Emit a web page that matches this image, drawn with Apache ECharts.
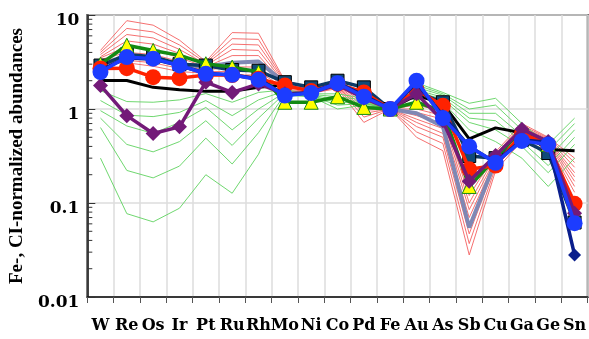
<!DOCTYPE html>
<html><head><meta charset="utf-8">
<script src="https://cdn.jsdelivr.net/npm/echarts@6/dist/echarts.min.js"></script>
<style>html,body{margin:0;padding:0;background:#fff}#c{width:589px;height:339px}</style>
</head><body><div id="c"></div>
<script>
const categories = ['W','Re','Os','Ir','Pt','Ru','Rh','Mo','Ni','Co','Pd','Fe','Au','As','Sb','Cu','Ga','Ge','Sn'];
const yTickLabels = ['0.01','0.1','1','10'];
const minorTickValues = [0.02,0.03,0.04,0.05,0.06,0.07,0.08,0.09,0.2,0.3,0.4,0.5,0.6,0.7,0.8,0.9,2,3,4,5,6,7,8,9];

const red1 = [4.2, 8.7, 7.8, 5.4, 3.2, 6.5, 6.4, 2.0, 1.7, 1.9, 1.5, 1.0, 1.1, 0.95, 0.15, 0.35, 0.7, 0.5, 0.3];
const red2 = [4.0, 7.2, 6.6, 4.8, 3.1, 5.6, 5.5, 1.95, 1.68, 1.88, 1.35, 1.0, 1.0, 0.85, 0.12, 0.33, 0.67, 0.49, 0.27];
const red3 = [3.8, 6.2, 5.7, 4.3, 3.0, 4.9, 4.8, 1.9, 1.65, 1.85, 1.25, 1.0, 0.92, 0.78, 0.1, 0.32, 0.64, 0.48, 0.24];
const red4 = [3.6, 5.3, 4.9, 3.9, 2.9, 4.3, 4.2, 1.85, 1.62, 1.82, 1.15, 1.0, 0.85, 0.7, 0.085, 0.3, 0.61, 0.47, 0.21];
const red5 = [3.5, 4.6, 4.3, 3.5, 2.8, 3.7, 3.7, 1.8, 1.6, 1.8, 1.05, 1.0, 0.78, 0.62, 0.07, 0.29, 0.58, 0.46, 0.19];
const red6 = [3.35, 4.0, 3.8, 3.2, 2.7, 3.2, 3.2, 1.75, 1.57, 1.77, 0.97, 1.0, 0.72, 0.55, 0.058, 0.27, 0.55, 0.45, 0.17];
const red7 = [3.25, 3.6, 3.4, 2.9, 2.6, 2.8, 2.8, 1.7, 1.54, 1.74, 0.9, 1.0, 0.65, 0.5, 0.047, 0.26, 0.52, 0.44, 0.15];
const red8 = [3.15, 3.3, 3.1, 2.7, 2.5, 2.5, 2.5, 1.65, 1.5, 1.7, 0.82, 1.0, 0.57, 0.43, 0.037, 0.24, 0.49, 0.42, 0.13];
const red9 = [3.05, 3.1, 2.85, 2.5, 2.4, 2.3, 2.3, 1.6, 1.47, 1.65, 0.72, 1.0, 0.5, 0.36, 0.028, 0.22, 0.46, 0.4, 0.11];

const green1 = [1.57, 1.2, 1.18, 1.25, 1.46, 1.18, 1.5, 1.6, 1.45, 1.45, 1.3, 1.0, 1.9, 1.5, 1.15, 1.3, 0.7, 0.42, 0.8];
const green2 = [1.23, 0.86, 0.83, 0.92, 1.23, 0.85, 1.25, 1.55, 1.43, 1.35, 1.25, 1.0, 1.8, 1.45, 1.0, 1.1, 0.6, 0.36, 0.7];
const green3 = [0.96, 0.66, 0.55, 0.72, 1.04, 0.6, 1.0, 1.5, 1.41, 1.25, 1.2, 1.0, 1.7, 1.4, 0.9, 0.9, 0.52, 0.3, 0.6];
const green4 = [0.8, 0.42, 0.35, 0.45, 0.75, 0.41, 0.8, 1.47, 1.39, 1.17, 1.17, 1.0, 1.6, 1.33, 0.8, 0.75, 0.45, 0.25, 0.5];
const green5 = [0.635, 0.222, 0.185, 0.247, 0.49, 0.26, 0.56, 1.43, 1.37, 1.1, 1.14, 1.0, 1.52, 1.27, 0.72, 0.6, 0.4, 0.21, 0.42];
const green6 = [0.30, 0.077, 0.063, 0.088, 0.2, 0.127, 0.33, 1.4, 1.35, 1.0, 1.1, 1.0, 1.42, 1.18, 0.6, 0.45, 0.3, 0.15, 0.3];

const blackLine = [2.01, 2.01, 1.7, 1.6, 1.54, 1.54, 1.7, 1.8, 1.6, 1.8, 1.5, 1.0, 1.4, 1.14, 0.48, 0.63, 0.56, 0.37, 0.36];
const slateLine = [3.0, 3.5, 3.4, 3.0, 2.8, 3.1, 3.2, 1.9, 1.6, 1.8, 1.5, 1.0, 0.9, 0.65, 0.055, 0.28, 0.5, 0.42, 0.07];
const squareSeries = [2.9, 3.8, 3.6, 3.0, 2.9, 2.6, 2.55, 1.93, 1.7, 2.0, 1.7, 1.0, 1.5, 1.18, 0.316, 0.3, 0.47, 0.34, 0.062];
const triangleSeries = [3.0, 4.77, 4.2, 3.72, 3.03, 2.79, 2.47, 1.18, 1.18, 1.35, 1.04, 1.0, 1.18, 0.95, 0.15, 0.3, 0.6, 0.42, 0.075];
const redCircles = [2.7, 2.72, 2.18, 2.13, 2.3, 2.3, 2.1, 1.78, 1.55, 1.85, 1.5, 1.0, 1.6, 1.08, 0.228, 0.25, 0.55, 0.42, 0.098];
const purpleDiamonds = [1.78, 0.85, 0.548, 0.646, 1.93, 1.5, 1.85, 1.45, 1.5, 1.8, 1.3, 1.0, 1.45, 0.75, 0.17, 0.32, 0.61, 0.45, 0.078];
const navyDiamonds = [2.6, 3.5, 3.4, 2.9, 2.4, 2.3, 2.1, 1.4, 1.5, 1.9, 1.4, 1.0, 1.9, 0.85, 0.4, 0.27, 0.47, 0.44, 0.028];
const blueCircles = [2.47, 3.57, 3.43, 2.91, 2.37, 2.31, 2.05, 1.39, 1.48, 1.88, 1.35, 1.0, 2.0, 0.8, 0.4, 0.268, 0.458, 0.42, 0.061];

const chart = echarts.init(document.getElementById('c'), null, {renderer: 'canvas'});
function thin(data, color) {
  return {type: 'line', data: data, symbol: 'none', silent: true, z: 2,
    lineStyle: {color: color, width: 0.9}};
}
function thick(data, color, symbol, size, fill, border, z, width) {
  return {type: 'line', data: data, symbol: symbol, symbolSize: size, z: z, silent: true,
    showSymbol: symbol !== 'none',
    lineStyle: {color: color, width: width || 3.5},
    itemStyle: {color: fill || color, borderColor: border || fill || color, borderWidth: border ? 1 : 0}};
}
const series = [];
[red1, red2, red3, red4, red5, red6, red7, red8, red9].forEach(d => series.push(thin(d, '#f46060')));
[green1, green2, green3, green4, green5, green6].forEach(d => series.push(thin(d, '#5fd35f')));
series.push(thick(blackLine, '#000000', 'none', 0, null, null, 3, 3));
series.push(thick(slateLine, '#7f88b4', 'none', 0, null, null, 3, 4));
series.push(thick(squareSeries, '#0d3a66', 'rect', 13, '#0f4a78', '#000000', 4));
series.push(thick(triangleSeries, '#138a13', 'triangle', 14, '#ffff00', '#138a13', 5));
series.push(thick(redCircles, '#ff2200', 'circle', 16, '#ff2200', null, 6));
series.push(thick(purpleDiamonds, '#731a78', 'diamond', 15, '#731a78', null, 7));
series.push(thick(navyDiamonds, '#0a1e8c', 'diamond', 13, '#0a1e8c', null, 8));
series.push(thick(blueCircles, '#1c3cff', 'circle', 16, '#1c3cff', null, 9));
series.push({
  type: 'custom', silent: true, z: 10,
  data: minorTickValues.map(v => [0, v]),
  renderItem: function (params, api) {
    const p = api.coord([api.value(0), api.value(1)]);
    const x0 = params.coordSys.x;
    return {type: 'line', shape: {x1: x0, y1: p[1], x2: x0 + 5, y2: p[1]},
      style: {stroke: '#333', lineWidth: 1}};
  }
});

chart.setOption({
  animation: false,
  backgroundColor: '#ffffff',
  grid: {left: 85, top: 15, right: -3, bottom: 42, show: true, borderColor: '#444', borderWidth: 2},
  xAxis: {
    type: 'category', data: categories, boundaryGap: true,
    axisLine: {lineStyle: {color: '#111', width: 1.5}},
    axisTick: {show: true, length: 6, lineStyle: {color: '#555', width: 1}},
    splitLine: {show: true, lineStyle: {color: '#dcdcdc', width: 1.5}},
    axisLabel: {color: '#000', fontFamily: 'DejaVu Serif', fontWeight: 'bold', fontSize: 16, margin: 21, interval: 0}
  },
  yAxis: {
    type: 'log', logBase: 10, min: 0.01, max: 10,
    name: 'Fe-, CI-normalized abundances', nameLocation: 'middle', nameGap: 58,
    nameTextStyle: {color: '#000', fontFamily: 'Liberation Serif', fontWeight: 'bold', fontSize: 19},
    axisLine: {show: true, lineStyle: {color: '#111', width: 1.5}},
    axisTick: {show: true, inside: true, length: 8, lineStyle: {color: '#333'}},
    splitLine: {show: true, lineStyle: {color: '#dcdcdc', width: 1.5}},
    axisLabel: {color: '#000', margin: 8,
      formatter: v => '{a|' + yTickLabels[Math.round(Math.log10(v)) + 2] + '}',
      rich: {a: {fontFamily: 'DejaVu Serif', fontWeight: 'bold', fontSize: 17, color: '#000', padding: [12, 0, 0, 0]}}}
  },
  series: series
});
</script>
</body></html>
